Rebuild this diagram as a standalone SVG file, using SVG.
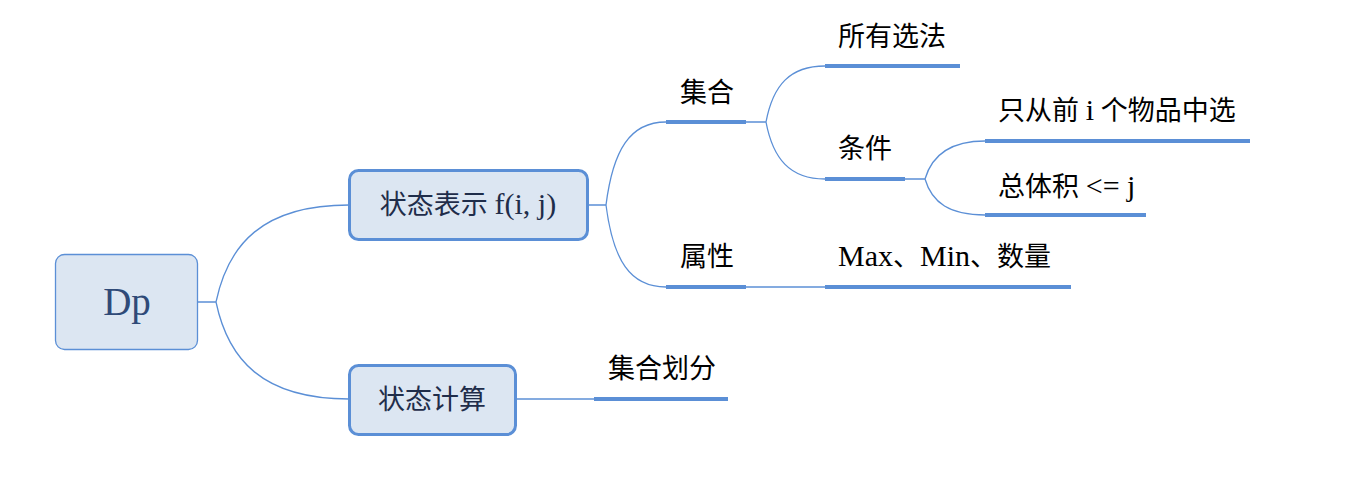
<svg xmlns="http://www.w3.org/2000/svg" width="1355" height="478" viewBox="0 0 1355 478">
<style>
.box{fill:#dce6f2;stroke:#5b8fd6;}
.ln{fill:none;stroke:#5b8fd6;stroke-width:1.3;}
.ul{fill:none;stroke:#5b8fd6;stroke-width:4;}
text{font-family:"Liberation Serif","Noto Sans CJK SC",serif;}
.nt{font-size:27px;fill:#1f2d4a;text-anchor:middle;}
.lt{font-size:27px;fill:#000;}
.la{font-size:30px;}
</style>
<rect width="1355" height="478" fill="#fff"/>
<g id="connectors">
<path class="ln" d="M198,302 H216 M216,302 C228,245 262,205 349,205 M216,302 C228,359 262,399 349,399"/>
<path class="ln" d="M588,205 H606 M606,205 C613,150 630,122 666,122 M606,205 C613,260 630,287 666,287"/>
<path class="ln" d="M746,122 H766 M766,122 C773,85 790,66 825,66 M766,122 C773,159 790,179 825,179"/>
<path class="ln" d="M905,179 H925 M925,179 C932,155 950,141 985,141 M925,179 C932,203 950,215 985,215"/>
<path class="ln" d="M746,287 H825"/>
<path class="ln" d="M515,399 H594"/>
</g>
<g id="n-dp"><rect class="box" x="55.5" y="254.5" width="142" height="95" rx="9" stroke-width="1.3"/><text class="nt" x="127" y="315" style="font-size:39px;fill:#2f4a78">Dp</text></g>
<g id="n-repr"><rect class="box" x="349.5" y="170.5" width="238" height="69" rx="9" stroke-width="3"/><text class="nt" x="468" y="214">状态表示 <tspan class="la">f(i, j)</tspan></text></g>
<g id="n-calc"><rect class="box" x="349.5" y="365.5" width="166" height="69" rx="9" stroke-width="3"/><text class="nt" x="432" y="409">状态计算</text></g>
<g id="n-set"><path class="ul" d="M666,122 H746"/><text class="lt" x="680" y="102">集合</text></g>
<g id="n-attr"><path class="ul" d="M666,287 H746"/><text class="lt" x="680" y="266">属性</text></g>
<g id="n-all"><path class="ul" d="M825,66 H960"/><text class="lt" x="838" y="46">所有选法</text></g>
<g id="n-cond"><path class="ul" d="M825,179 H905"/><text class="lt" x="838" y="158">条件</text></g>
<g id="n-first"><path class="ul" d="M985,141 H1250"/><text class="lt" x="998" y="120">只从前 <tspan class="la">i</tspan> 个物品中选</text></g>
<g id="n-vol"><path class="ul" d="M985,215 H1146"/><text class="lt" x="998" y="196">总体积 <tspan class="la">&lt;= j</tspan></text></g>
<g id="n-max"><path class="ul" d="M825,287 H1071"/><text class="lt" x="838" y="266"><tspan class="la">Max</tspan>、<tspan class="la">Min</tspan>、数量</text></g>
<g id="n-part"><path class="ul" d="M594,399 H728"/><text class="lt" x="608" y="378">集合划分</text></g>
</svg>
